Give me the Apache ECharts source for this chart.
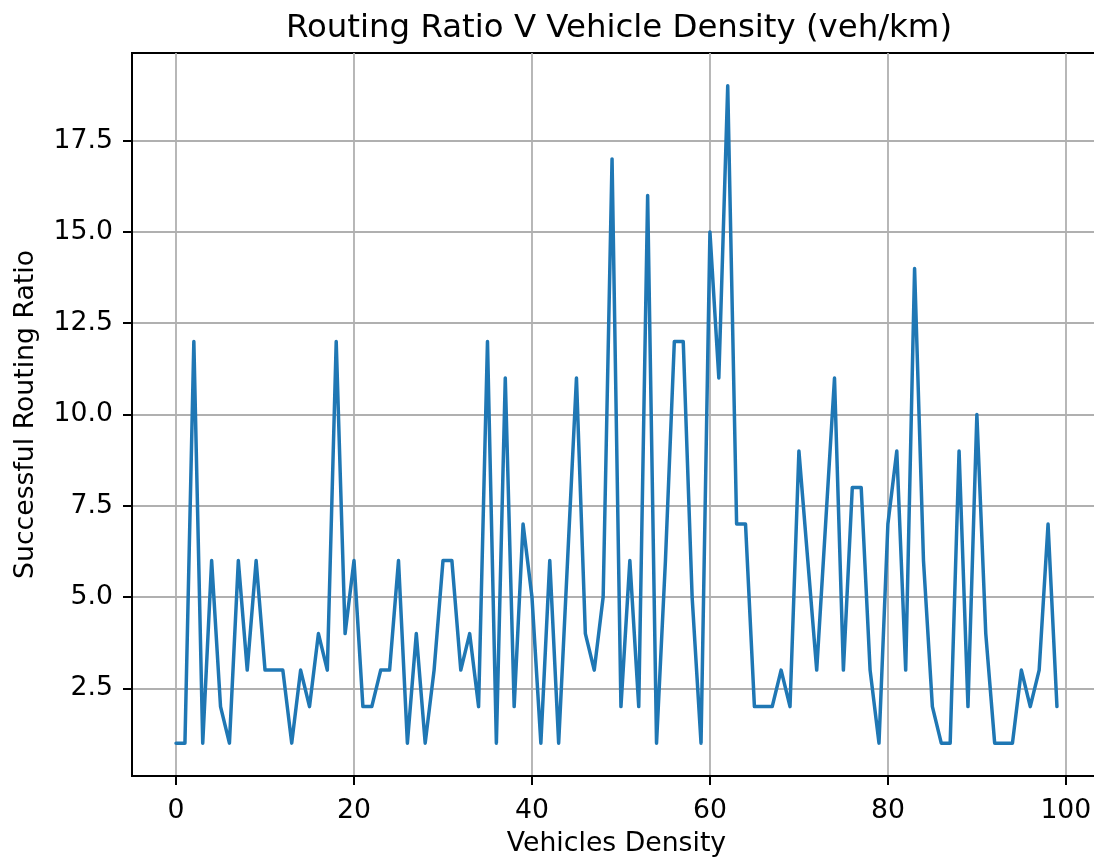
<!DOCTYPE html>
<html>
<head>
<meta charset="utf-8">
<script src="https://cdn.jsdelivr.net/npm/echarts@6/dist/echarts.min.js"></script>
<style>
html,body{margin:0;padding:0;background:#fff;}
#c{width:1094px;height:860px;}
</style>
</head>
<body>
<div id="c"></div>
<script>
const titleText = 'Routing Ratio V Vehicle Density (veh/km)';
const xName = 'Vehicles Density';
const yName = 'Successful Routing Ratio';
const xTicks = [0, 20, 40, 60, 80, 100];
const yTicks = [2.5, 5, 7.5, 10, 12.5, 15, 17.5];
const ratio = [
  1, 1, 12, 1, 6, 2, 1, 6, 3, 6,
  3, 3, 3, 1, 3, 2, 4, 3, 12, 4,
  6, 2, 2, 3, 3, 6, 1, 4, 1, 3,
  6, 6, 3, 4, 2, 12, 1, 11, 2, 7,
  5, 1, 6, 1, 6, 11, 4, 3, 5, 17,
  2, 6, 2, 16, 1, 6, 12, 12, 5, 1,
  15, 11, 19, 7, 7, 2, 2, 2, 3, 2,
  9, 6, 3, 7, 11, 3, 8, 8, 3, 1,
  7, 9, 3, 14, 6, 2, 1, 1, 9, 2,
  10, 4, 1, 1, 1, 3, 2, 3, 7, 2
];
const density = ratio.map((_, i) => i);

const font = 'DejaVu Sans';
const chart = echarts.init(document.getElementById('c'), null, {renderer: 'canvas'});
chart.setOption({
  animation: false,
  backgroundColor: '#fff',
  title: {
    text: titleText,
    left: 614, top: 8, textAlign: 'center',
    textStyle: {fontFamily: font, fontSize: 32.4, fontWeight: 'normal', color: '#000'}
  },
  grid: {left: 132, width: 969, top: 53, height: 723, outerBoundsMode: 'none', containLabel: false,
    show: true, borderColor: '#000', borderWidth: 2, backgroundColor: 'transparent'},
  xAxis: {
    type: 'value', min: -4.95, max: 103.95,
    name: xName, nameLocation: 'middle', nameGap: 55,
    nameTextStyle: {fontFamily: font, fontSize: 26.7, color: '#000'},
    axisLine: {show: true, onZero: false, lineStyle: {color: '#000', width: 2}},
    axisTick: {show: true, inside: false, length: 9, customValues: xTicks, lineStyle: {color: '#000', width: 2}},
    axisLabel: {show: true, margin: 22, customValues: xTicks, fontFamily: font, fontSize: 26.7, color: '#000', formatter: v => String(v)},
    splitLine: {show: true, lineStyle: {color: '#b0b0b0', width: 1.8}}
  },
  yAxis: {
    type: 'value', min: 0.1, max: 19.9,
    name: yName, nameLocation: 'middle', nameGap: 92, nameRotate: 90,
    nameTextStyle: {fontFamily: font, fontSize: 26.7, color: '#000'},
    axisLine: {show: true, onZero: false, lineStyle: {color: '#000', width: 2}},
    axisTick: {show: true, inside: false, length: 9, customValues: yTicks, lineStyle: {color: '#000', width: 2}},
    axisLabel: {show: true, margin: 19, customValues: yTicks, fontFamily: font, fontSize: 26.7, color: '#000', formatter: v => v.toFixed(1)},
    splitLine: {show: true, lineStyle: {color: '#b0b0b0', width: 1.8}}
  },
  series: [{
    type: 'line',
    data: density.map((x, i) => [x, ratio[i]]),
    showSymbol: false,
    lineStyle: {color: '#1f77b4', width: 3.5, join: 'round', cap: 'round'},
    itemStyle: {color: '#1f77b4'},
    clip: true
  }]
});
</script>
</body>
</html>
